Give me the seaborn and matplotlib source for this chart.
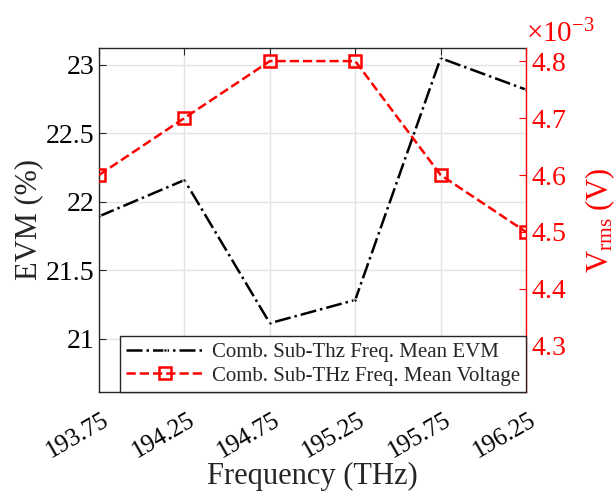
import matplotlib
matplotlib.use("Agg")
import matplotlib.pyplot as plt
import matplotlib.ticker as mticker
import matplotlib.transforms as mtransforms
import seaborn as sns
import pandas as pd

freq = [193.75, 194.25, 194.75, 195.25, 195.75, 196.25]
freq_labels = ["193.75", "194.25", "194.75", "195.25", "195.75", "196.25"]
evm = [21.895, 22.16, 21.115, 21.285, 23.05, 22.82]
vrms = [4.6e-3, 4.7e-3, 4.8e-3, 4.8e-3, 4.6e-3, 4.5e-3]
evm_ticks = [21, 21.5, 22, 22.5, 23]
v_ticks = [4.3e-3, 4.4e-3, 4.5e-3, 4.6e-3, 4.7e-3, 4.8e-3]
label_evm = "Comb. Sub-Thz Freq. Mean EVM"
label_v = "Comb. Sub-THz Freq. Mean Voltage"

sns.set_style("white")
plt.rcParams["font.family"] = ["Liberation Serif", "DejaVu Serif"]
plt.rcParams["mathtext.fontset"] = "custom"
plt.rcParams["mathtext.rm"] = "Liberation Serif"
plt.rcParams["mathtext.it"] = "Liberation Serif:italic"
plt.rcParams["axes.unicode_minus"] = True

df1 = pd.DataFrame({"freq": freq, "evm": evm})
df2 = pd.DataFrame({"freq": freq, "v": vrms})

fig = plt.figure(figsize=(6.16, 5.0), dpi=100)
ax1 = fig.add_axes([0.1607, 0.216, 0.854 - 0.1607, 0.904 - 0.216])
ax2 = ax1.twinx()

sns.lineplot(data=df1, x="freq", y="evm", ax=ax1, color="black", linestyle="-.",
             marker=".", markersize=5, linewidth=1.8, sort=False, label=label_evm, legend=False)
sns.lineplot(data=df2, x="freq", y="v", ax=ax2, color="#ff0000", linestyle="--",
             marker="s", markersize=9, markerfacecolor="none", markeredgecolor="#ff0000",
             markeredgewidth=1.8, linewidth=1.8, sort=False, label=label_v, legend=False)

ax1.set_xlim(193.75, 196.25)
ax1.set_ylim(20.613, 23.124)
ax2.set_ylim(4.219e-3, 4.823e-3)

ax1.tick_params(axis="both", direction="in", length=5, top=True, right=False, colors="#262626")
ax1.tick_params(axis="both", labelcolor="black")

ax1.set_xticks(freq)
ax1.set_xticklabels(freq_labels, rotation=30, ha="right", rotation_mode="anchor", fontsize=18)
ax1.set_yticks(evm_ticks)
ax1.set_yticklabels(["21", "21.5", "22", "22.5", "23"], fontsize=20)
ax2.set_yticks(v_ticks)
fmt = mticker.ScalarFormatter(useMathText=True)
fmt.set_powerlimits((-1, 1))
ax2.yaxis.set_major_formatter(fmt)
ax2.tick_params(axis="y", labelsize=20, colors="#ff0000", direction="in", length=5)
ax2.yaxis.OFFSETTEXTPAD = 4
ot = ax2.yaxis.get_offset_text()
ot.set_fontsize(21)
ot.set_color("#ff0000")
ot.set_horizontalalignment("left")

ax1.grid(True, color="#e3e3e3", linewidth=1.0)
ax1.set_axisbelow(True)

for s in ["left", "top", "bottom"]:
    ax1.spines[s].set_color("#262626")
    ax1.spines[s].set_linewidth(1.0)
ax1.spines["right"].set_visible(False)
for s in ["left", "top", "bottom"]:
    ax2.spines[s].set_visible(False)
ax2.spines["right"].set_color("#ff0000")
ax2.spines["right"].set_linewidth(1.0)

ax1.set_xlabel("Frequency (THz)", fontsize=22, labelpad=0)
ax1.set_ylabel("EVM (%)", fontsize=22, labelpad=2)
ax2.set_ylabel(r"V$_{\mathrm{rms}}$ (V)", fontsize=22, color="#ff0000", labelpad=12)

h1, l1 = ax1.get_legend_handles_labels()
h2, l2 = ax2.get_legend_handles_labels()
leg = ax2.legend(h1 + h2, l1 + l2, loc="lower right", fontsize=15, frameon=True,
                 fancybox=False, edgecolor="#262626", framealpha=1, borderaxespad=0,
                 handlelength=3.7, handletextpad=0.4, borderpad=0.3, labelspacing=0.2)
leg.get_frame().set_linewidth(1.0)

# shift rotated x tick labels (after all tick_params calls)
offset = mtransforms.ScaledTranslation(3 / 100, -12 / 100, fig.dpi_scale_trans)
for tick in ax1.xaxis.get_major_ticks():
    tick.label1.set_transform(tick.label1.get_transform() + offset)

fig.savefig("out.png", dpi=100)
